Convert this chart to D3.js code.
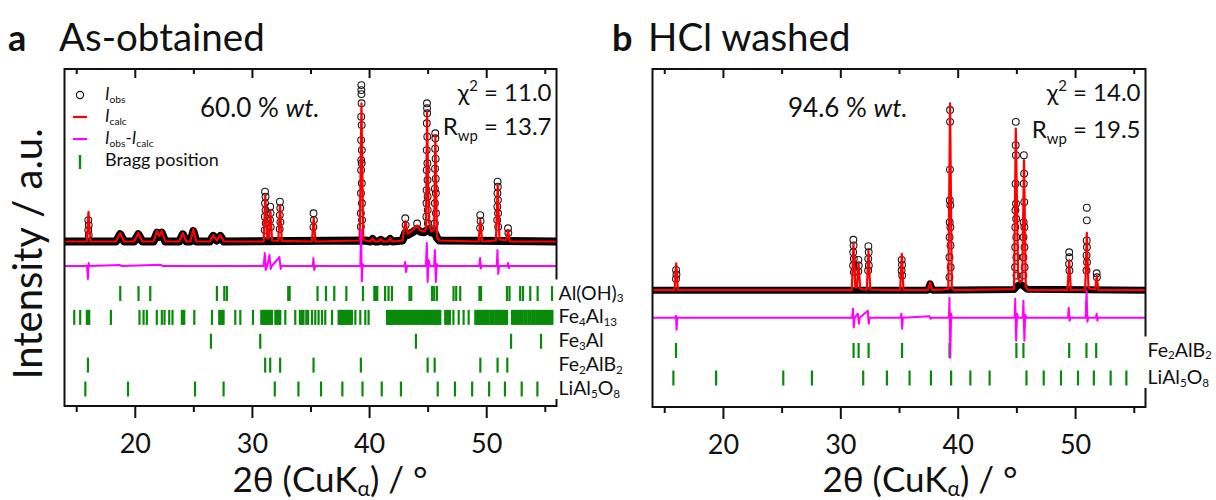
<!DOCTYPE html>
<html><head><meta charset="utf-8">
<script src="https://cdn.jsdelivr.net/npm/d3@7"></script>
<style>
body{margin:0;background:#fff;}
svg{display:block;font-family:Lato, "Open Sans", sans-serif;}
</style></head><body>
<svg id="chart" width="1216" height="500"></svg>
<script>
// ---------- data ----------
const twoThetaDomain = [14, 56];
const majorTicks = [20, 30, 40, 50];
const minorTicks = [15, 25, 35, 45, 55];

const phasesA = ["Al(OH)3", "Fe4Al13", "Fe3Al", "Fe2AlB2", "LiAl5O8"];
const phasesB = ["Fe2AlB2", "LiAl5O8"];

// Panel a: calculated profile [2theta, intensity]
const calcA = [[14,200],[15.9,200],[16.05,348],[16.2,200],[18.4,200],[18.75,242],[19.1,200],[19.95,200],[20.3,242],[20.65,200],
 [21.6,200],[21.9,252],[22.1,228],[22.3,252],[22.6,200],[23.8,200],[24.1,242],[24.4,200],[24.75,200],[25.0,262],[25.25,200],
 [26.4,200],[26.7,232],[27.0,205],[27.3,232],[27.6,200],[31.0,200],[31.14,432],[31.3,215],[31.45,220],[31.57,357],[31.72,205],
 [32.25,203],[32.4,382],[32.55,203],[35.12,200],[35.27,317],[35.42,200],[39.2,205],[39.35,891],[39.5,210],[39.7,205],
 [40.1,200],[40.3,215],[40.5,200],[40.8,200],[41.0,212],[41.2,200],[41.6,200],[41.8,215],[42.0,200],
 [42.85,205],[43.1,302],[43.3,240],[43.6,250],[44.1,280],[44.4,255],[44.7,250],[44.85,260],[44.95,849],[45.1,300],
 [45.3,250],[45.55,260],[45.66,732],[45.8,220],[46.0,205],[49.35,200],[49.5,307],[49.65,200],
 [50.83,205],[50.98,482],[51.13,210],[51.7,205],[51.87,257],[52.0,200],[56,200]];
// Panel a: background band of densely packed observed points
const bandA = [[14,200],[18.4,200],[18.75,236],[19.1,200],[19.95,200],[20.3,236],[20.65,200],[21.6,200],[21.9,244],[22.1,224],
 [22.3,244],[22.6,200],[23.8,200],[24.1,236],[24.4,200],[24.75,200],[25.0,252],[25.25,200],[26.4,200],[26.7,228],[27.0,205],
 [27.3,228],[27.6,200],[39.7,205],[40.1,200],[40.3,212],[40.5,200],[40.8,200],[41.0,208],[41.2,200],[41.6,200],[41.8,212],
 [42.0,200],[42.85,205],[43.1,245],[43.3,232],[43.6,242],[44.1,262],[44.4,248],[44.7,246],[44.9,255],[45.1,262],[45.3,245],
 [45.55,252],[45.8,218],[46.0,205],[56,200]];
// Panel a: observed points on peaks
const obsA = [[16.03,307],[16.07,282],[16.03,257],[16.07,232],
 [31.12,449],[31.16,424],[31.12,391],[31.16,357],[31.1,324],[31.18,291],[31.1,257],
 [31.56,374],[31.59,342],[31.55,307],[31.6,272],
 [32.39,399],[32.42,367],[32.38,332],[32.43,297],[32.37,262],
 [35.26,341],[35.29,307],[35.25,272],
 [39.34,982],[39.34,957],[39.35,937],[39.36,891],[39.33,824],[39.37,782],[39.32,707],[39.38,657],[39.33,607],[39.37,591],
 [39.32,557],[39.38,491],[39.31,441],[39.39,391],[39.3,341],[39.4,307],[39.3,274],
 [43.09,316],[43.12,282],[44.1,290],
 [44.94,891],[44.95,866],[44.96,841],[44.93,791],[44.97,724],[44.92,657],[44.98,591],[44.92,557],[44.99,507],[44.91,457],
 [45.0,424],[44.9,391],[45.01,357],[44.89,324],[45.02,291],
 [45.65,741],[45.66,716],[45.64,664],[45.68,614],[45.63,564],[45.69,514],[45.62,464],[45.7,441],[45.62,391],[45.71,341],[45.61,291],
 [49.49,332],[49.52,302],[49.48,267],
 [50.97,499],[50.99,474],[50.96,441],[51.0,407],[50.95,374],[51.01,341],[50.94,307],[51.02,274],
 [51.86,266],[51.89,242]];
// Panel a: difference curve (obs - calc)
const diffA = [[14,0],[15.92,0],[16.0,-65],[16.06,15],[16.15,0],[18.7,5],[18.9,0],[22.2,6],[22.4,0],
 [31.0,0],[31.1,65],[31.18,-20],[31.3,0],[31.5,55],[31.6,-15],[31.7,0],[32.35,45],[32.45,-15],[32.55,0],
 [35.2,0],[35.25,40],[35.32,-20],[35.4,0],[39.25,0],[39.32,180],[39.38,-78],[39.45,10],[39.55,0],
 [43.0,0],[43.08,20],[43.15,-30],[43.25,0],[44.85,0],[44.93,115],[45.0,-80],[45.08,30],[45.2,0],
 [45.55,0],[45.62,80],[45.7,-80],[45.78,10],[45.9,0],[49.4,0],[49.48,40],[49.55,-12],[49.65,0],
 [50.9,0],[50.96,80],[51.03,-40],[51.1,0],[51.8,0],[51.86,15],[51.92,-10],[52.0,0],[56,0]];

// Panel b
const calcB = [[14,200],[15.88,200],[16.02,334],[16.16,200],[30.98,200],[31.12,431],[31.28,212],[31.42,215],[31.55,338],[31.7,205],
 [32.26,203],[32.4,398],[32.55,203],[35.1,200],[35.24,381],[35.38,200],[37.45,200],[37.65,239],[37.85,200],
 [39.2,205],[39.35,1131],[39.5,210],[39.7,200],[44.8,205],[44.95,1006],[45.15,260],[45.3,240],[45.5,250],[45.65,848],
 [45.8,215],[46.0,200],[49.36,200],[49.5,348],[49.64,200],[50.86,202],[51.0,486],[51.14,215],[51.3,205],[51.72,205],
 [51.85,273],[51.98,200],[56,200]];
const bandB = [[14,200],[37.45,200],[37.65,232],[37.85,200],[44.8,203],[45.1,222],[45.3,228],[45.5,225],[45.9,205],[56,200]];
const obsB = [[16.01,301],[16.04,278],[16.0,256],
 [31.11,451],[31.13,423],[31.1,389],[31.15,356],[31.09,323],[31.16,289],
 [31.54,351],[31.57,323],[31.53,293],
 [32.39,419],[32.42,389],[32.38,356],[32.43,323],[32.37,298],
 [35.23,351],[35.26,326],[35.22,298],[35.27,273],
 [39.35,1098],[39.35,1039],[39.34,801],[39.33,648],[39.37,623],[39.32,539],[39.38,514],[39.31,464],[39.39,423],[39.3,364],
 [39.4,314],[39.3,264],
 [44.95,1039],[44.94,923],[44.96,873],[44.93,731],[44.97,631],[44.92,598],[44.98,556],[44.91,514],[44.99,464],[44.9,414],
 [45.0,364],[44.89,314],[45.01,273],
 [45.64,873],[45.66,781],[45.63,731],[45.67,639],[45.62,539],[45.68,514],[45.61,464],[45.69,414],[45.6,364],[45.7,314],[45.6,273],
 [49.5,389],[49.51,364],[49.49,331],[49.52,298],
 [51.0,611],[51.0,548],[50.99,448],[51.01,414],[50.98,373],[51.02,339],[50.97,298],
 [51.84,284],[51.86,264]];
const diffB = [[14,0],[15.92,0],[16.0,10],[16.05,-60],[16.12,0],[31.0,0],[31.08,45],[31.15,-48],[31.22,0],[31.5,20],[31.58,-30],
 [31.65,0],[32.34,35],[32.42,-30],[32.5,0],[35.15,0],[35.2,20],[35.27,-55],[35.33,0],[37.6,8],[37.7,-5],[37.8,0],
 [39.25,0],[39.3,100],[39.37,-200],[39.44,20],[39.5,0],[44.85,0],[44.9,95],[44.98,-115],[45.06,20],[45.15,0],
 [45.55,0],[45.6,85],[45.68,-115],[45.75,15],[45.85,0],[49.4,0],[49.46,50],[49.53,-15],[49.6,0],
 [50.9,0],[50.98,135],[51.05,-20],[51.12,0],[51.78,0],[51.84,20],[51.9,-15],[51.96,0],[56,0]];

// Bragg positions (2theta)
const braggA_AlOH3 = [18.76,20.32,21.32,27.01,27.64,27.86,33.1,33.22,35.6,36.32,37.03,38.06,39.48,40.45,40.6,40.7,41.37,41.66,41.95,
 43.45,43.6,45.37,45.56,45.79,47.21,47.44,47.78,49.42,49.56,51.77,51.99,52.9,53.14,53.76,54.39,55.62];
const braggA_Fe4Al13 = [14.83,15.34,15.91,16.0,16.11,17.96,20.4,20.75,21.03,21.88,22.31,22.54,22.94,23.22,24.02,24.12,24.22,25.08,
 26.59,27.21,27.31,27.41,27.5,27.58,28.58,29.01,30.09,30.8,30.9,31.0,31.1,31.2,31.28,31.42,31.52,31.62,31.71,32.0,32.1,32.2,
 32.32,32.42,32.85,33.7,34.1,34.27,34.4,34.64,34.8,35.13,35.41,35.69,35.98,36.26,36.84,37.4,37.5,37.6,37.7,37.8,37.9,38.0,
 38.1,38.2,38.3,38.4,38.54,38.83,39.25,39.68,39.96,41.53,41.62,41.75,41.85,41.95,42.1,42.2,42.3,42.45,42.55,42.7,42.8,
 42.9,43.05,43.15,43.3,43.4,43.5,43.65,43.75,43.9,44.0,44.1,44.25,44.35,44.5,44.6,44.7,44.85,44.95,45.1,45.2,45.3,45.45,
 45.55,45.7,45.8,45.9,46.0,46.08,46.5,46.6,46.75,46.9,47.2,47.65,48.07,48.5,49.07,49.15,49.25,49.35,49.45,49.55,49.7,
 49.8,49.9,50.0,50.1,50.2,50.35,50.45,50.55,50.65,50.8,50.9,51.0,51.1,51.2,51.35,51.45,51.55,51.65,51.78,52.2,52.3,52.45,
 52.55,52.65,52.8,52.9,53.0,53.1,53.25,53.35,53.45,53.6,53.7,53.8,53.95,54.05,54.15,54.3,54.4,54.5,54.65,54.75,54.85,
 55.0,55.1,55.2,55.35,55.45,55.55,55.7];
const braggA_Fe3Al = [26.5,30.71,44.0,52.12,54.68];
const bragg_Fe2AlB2 = [16.0,31.13,31.56,32.41,35.26,39.3,45.0,45.6,49.5,50.97,51.8];
const bragg_LiAl5O8 = [15.78,19.42,25.14,27.58,31.95,33.97,35.9,37.72,39.44,41.08,42.72,45.86,47.33,48.8,50.25,51.6,53.03,54.37];

// ---------- drawing ----------
const svg = d3.select("#chart");
const FONT = "Lato, 'Open Sans', sans-serif";

function rich(g, x, y, parts, size, anchor, extra, subScale, subShift) {
  const t = g.append("text").attr("x", x).attr("y", y).attr("font-size", size)
    .attr("text-anchor", anchor || "start").attr("fill", "#111");
  if (extra) extra(t);
  let shift = 0;
  parts.forEach(p => {
    const target = p.sub ? size * (subShift || 0.26) : p.sup ? -size * 0.42 : 0;
    const ts = t.append("tspan").attr("dy", target - shift).text(p.t);
    if (p.sub || p.sup) ts.attr("font-size", size * (subScale || 0.62));
    if (p.it) ts.attr("font-style", "italic");
    if (p.b) ts.attr("font-weight", "bold");
    shift = target;
  });
  return t;
}
function formulaParts(name) {
  return name.split(/(\d+)/).filter(s => s.length).map(s => /^\d+$/.test(s) ? {t: s, sub: true} : {t: s});
}

function panel(cfg) {
  const g = svg.append("g");
  const x = d3.scaleLinear().domain(twoThetaDomain).range([cfg.left, cfg.right]);
  const y = d3.scaleLinear().domain(cfg.yDomain).range([cfg.bottom, cfg.top]);
  const rows = d3.scalePoint().domain(cfg.phases).range(cfg.rowRange);

  cfg.bragg.forEach((list, i) => {
    const ph = cfg.phases[i];
    g.append("g").selectAll("line").data(list).join("line")
      .attr("x1", d => x(d)).attr("x2", d => x(d))
      .attr("y1", rows(ph) - 7.5).attr("y2", rows(ph) + 7.5)
      .attr("stroke", "#0a8a0a").attr("stroke-width", 2.2);
  });

  const line = d3.line().x(d => x(d[0])).y(d => y(d[1]));
  g.append("path").datum(cfg.band).attr("d", line).attr("fill", "none")
    .attr("stroke", "#000").attr("stroke-width", cfg.bandWidth).attr("stroke-linejoin", "round");
  g.append("g").selectAll("circle").data(cfg.obs).join("circle")
    .attr("cx", d => x(d[0])).attr("cy", d => y(d[1])).attr("r", 3.4)
    .attr("fill", "none").attr("stroke", "#1a1a1a").attr("stroke-width", 1.1);
  g.append("path").datum(cfg.calc).attr("d", line).attr("fill", "none")
    .attr("stroke", "#ff0000").attr("stroke-width", 2.2).attr("stroke-linejoin", "round");
  g.append("path").datum(cfg.diff).attr("d", d3.line().x(d => x(d[0])).y(d => y(d[1] + cfg.diffZero)))
    .attr("fill", "none").attr("stroke", "#ff00ff").attr("stroke-width", 2).attr("stroke-linejoin", "round");

  g.append("rect").attr("x", cfg.left).attr("y", cfg.top)
    .attr("width", cfg.right - cfg.left).attr("height", cfg.bottom - cfg.top)
    .attr("fill", "none").attr("stroke", "#111").attr("stroke-width", 2);

  const styleAxis = s => { s.select(".domain").remove(); s.attr("font-family", null).attr("font-size", null);
    s.selectAll("line").attr("stroke", "#111").attr("stroke-width", 2); };
  g.append("g").attr("transform", `translate(0,${cfg.bottom})`)
    .call(d3.axisBottom(x).tickValues(majorTicks).tickSize(12).tickPadding(16).tickFormat(d3.format("d")))
    .call(styleAxis)
    .call(s => s.selectAll("text").attr("font-size", 27).attr("fill", "#111").attr("font-family", FONT));
  g.append("g").attr("transform", `translate(0,${cfg.bottom})`)
    .call(d3.axisBottom(x).tickValues(minorTicks).tickSize(6).tickFormat(""))
    .call(styleAxis);
  g.append("g").attr("transform", `translate(0,${cfg.top})`)
    .call(d3.axisBottom(x).tickValues(majorTicks).tickSize(9).tickFormat(""))
    .call(styleAxis);
  g.append("g").attr("transform", `translate(0,${cfg.top})`)
    .call(d3.axisBottom(x).tickValues(minorTicks).tickSize(5).tickFormat(""))
    .call(styleAxis);

  const first = rows(cfg.phases[0]), last = rows(cfg.phases[cfg.phases.length - 1]);
  g.append("rect").attr("x", cfg.right - 3).attr("y", first - 14).attr("width", 75)
    .attr("height", last - first + 24).attr("fill", "#fff");
  cfg.phases.forEach(ph => {
    rich(g, cfg.right + 2, rows(ph) + 6, formulaParts(ph), 19.5, "start", null, 0.6, 0.15);
  });

  rich(g, cfg.xTitleX, 492, [{t: "2θ (CuK"}, {t: "α", sub: true}, {t: ") / °"}], 35, "middle", null, 0.6, 0.12);

  rich(g, cfg.tagX, 51, [{t: cfg.tag, b: true}], 36, "start");
  rich(g, cfg.titleX, 51, [{t: cfg.title}], 38.5, "start");

  rich(g, cfg.wtX, 117, [{t: cfg.wt + " % "}, {t: "wt.", it: true}], 26, "start");
  rich(g, cfg.right - 5, 101, [{t: "χ"}, {t: "2", sup: true}, {t: " = " + cfg.chi2}], 24, "end");
  rich(g, cfg.right - 5, cfg.rwpY, [{t: "R"}, {t: "wp", sub: true}, {t: " = " + cfg.rwp}], 24, "end");
  return {g, x, y};
}

panel({
  left: 64.5, right: 556.5, top: 69, bottom: 406,
  yDomain: [-622.5, 1062.5], phases: phasesA, rowRange: [293.5, 389],
  bragg: [braggA_AlOH3, braggA_Fe4Al13, braggA_Fe3Al, bragg_Fe2AlB2, bragg_LiAl5O8],
  calc: calcA, band: bandA, obs: obsA, diff: diffA, diffZero: 77.5, bandWidth: 8,
  xTitleX: 330, tag: "a", tagX: 8, title: "As-obtained", titleX: 59,
  wt: "60.0", wtX: 200, chi2: "11.0", rwp: "13.7", rwpY: 135
});
panel({
  left: 652.5, right: 1145.5, top: 69, bottom: 407,
  yDomain: [-382.5, 1302.5], phases: phasesB, rowRange: [350.5, 378],
  bragg: [bragg_Fe2AlB2, bragg_LiAl5O8],
  calc: calcB, band: bandB, obs: obsB, diff: diffB, diffZero: 62.5, bandWidth: 7,
  xTitleX: 920, tag: "b", tagX: 612, title: "HCl washed", titleX: 648,
  wt: "94.6", wtX: 788, chi2: "14.0", rwp: "19.5", rwpY: 138
});

rich(svg, 0, 0, [{t: "Intensity / a.u."}], 40, "middle", t => t.attr("transform", "translate(42,254) rotate(-90)"));

const lg = svg.append("g");
lg.append("circle").attr("cx", 80).attr("cy", 95).attr("r", 3.6).attr("fill", "none").attr("stroke", "#111").attr("stroke-width", 1.2);
lg.append("line").attr("x1", 73).attr("x2", 87).attr("y1", 117).attr("y2", 117).attr("stroke", "#ff0000").attr("stroke-width", 2.2);
lg.append("line").attr("x1", 73).attr("x2", 87).attr("y1", 139).attr("y2", 139).attr("stroke", "#ff00ff").attr("stroke-width", 2.2);
lg.append("line").attr("x1", 80).attr("x2", 80).attr("y1", 155).attr("y2", 169).attr("stroke", "#0a8a0a").attr("stroke-width", 2.4);
rich(lg, 105, 100, [{t: "I", it: true}, {t: "obs", sub: true}], 17, "start", null, 0.6, 0.2);
rich(lg, 105, 122, [{t: "I", it: true}, {t: "calc", sub: true}], 17, "start", null, 0.6, 0.2);
rich(lg, 105, 144, [{t: "I", it: true}, {t: "obs", sub: true}, {t: "-"}, {t: "I", it: true}, {t: "calc", sub: true}], 17, "start", null, 0.6, 0.2);
rich(lg, 105, 166, [{t: "Bragg position"}], 18, "start");
</script></body></html>
